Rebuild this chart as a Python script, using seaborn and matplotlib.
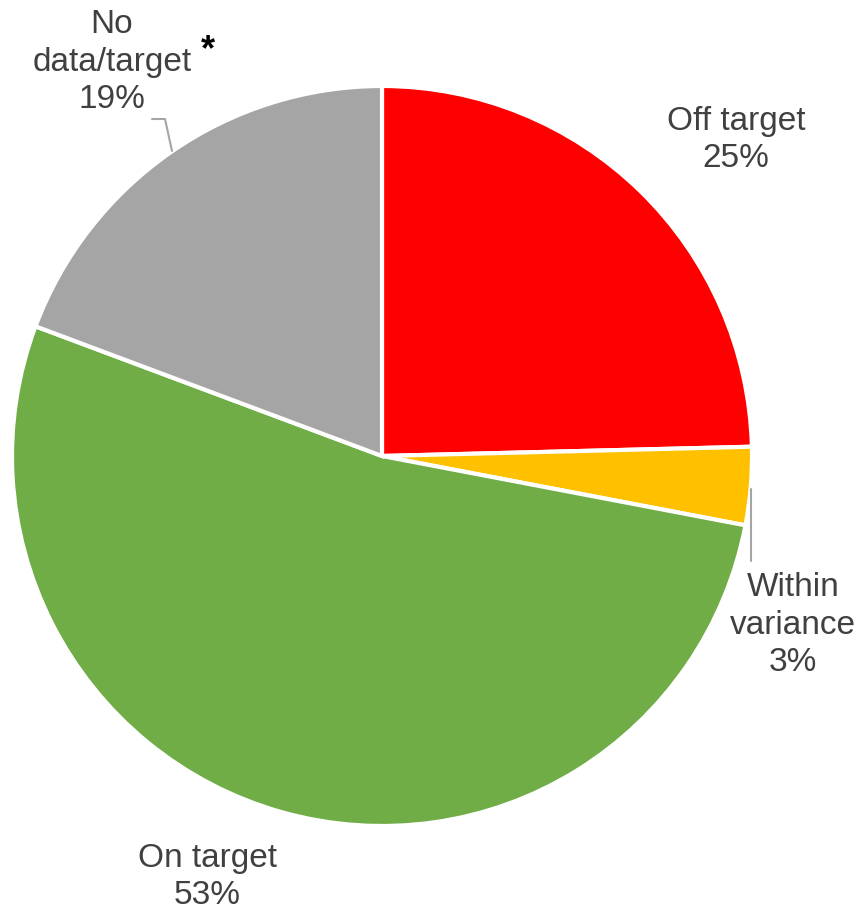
import matplotlib
matplotlib.use("Agg")
import matplotlib.pyplot as plt
import seaborn as sns

categories = ["Off target", "Within variance", "On target", "No data/target"]
values = [24.6, 3.4, 52.7, 19.3]
pct_labels = ["25%", "3%", "53%", "19%"]
colors = ["#FF0000", "#FFC000", "#70AD47", "#A5A5A5"]

sns.set_theme(style="white")
plt.rcParams['font.family'] = ['Liberation Sans', 'DejaVu Sans']

W, H = 861, 912
fig = plt.figure(figsize=(W / 100, H / 100), dpi=100)
ax = fig.add_axes([0, 0, 1, 1])

cx, cy, r = 382, H - 457, 370
ax.pie(values, colors=colors, startangle=90, counterclock=False,
       center=(cx, cy), radius=r, frame=True,
       wedgeprops=dict(edgecolor="white", linewidth=3))
ax.set_xlim(0, W)
ax.set_ylim(0, H)
ax.set_aspect('equal')
ax.axis('off')

txt = dict(color="#404040", fontsize=24, ha="center", va="center", linespacing=1.28)
ax.text(736, H - 140, f"{categories[0]}\n{pct_labels[0]}", **txt)
ax.text(793, H - 625, "Within\nvariance\n" + pct_labels[1], **txt)
ax.text(207, H - 877, f"{categories[2]}\n{pct_labels[2]}", **txt)
ax.text(112, H - 62, "No\ndata/target\n" + pct_labels[3], **txt)
ax.text(208, H - 51, "*", color="black", fontsize=26, fontweight="bold", ha="center", va="center")

lc = "#A5A5A5"
ax.plot([152, 165, 172], [H - 120, H - 120, H - 152], color=lc, lw=1.5)
ax.plot([751, 751], [H - 490, H - 562], color=lc, lw=1.5)

fig.savefig("out.png", dpi=100)
